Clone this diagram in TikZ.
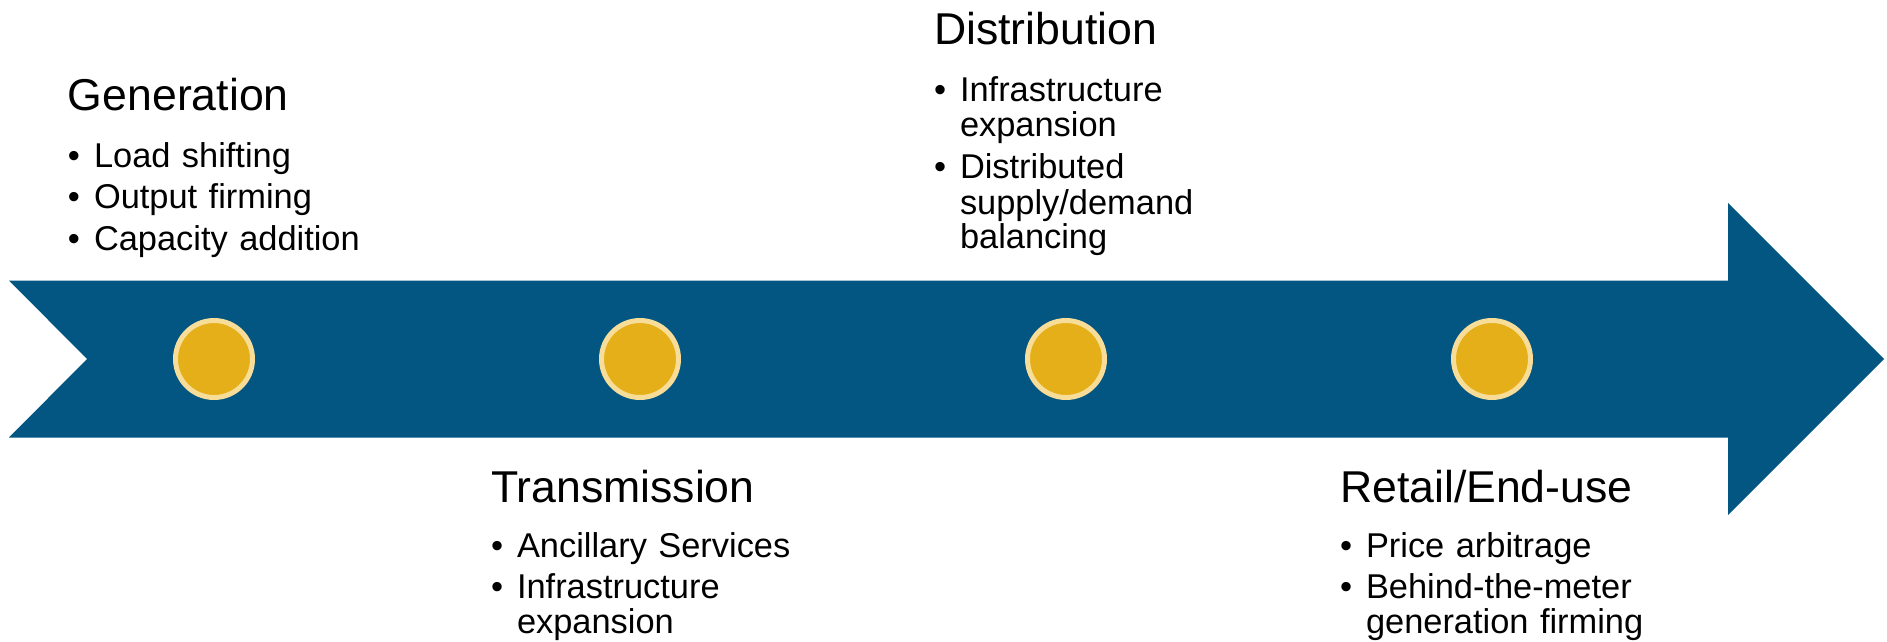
\documentclass[tikz,border=0pt]{standalone}
\usepackage{fontspec}
\setmainfont{Liberation Sans}
\definecolor{band}{RGB}{2,86,129}
\definecolor{dotfill}{RGB}{228,175,24}
\definecolor{dotring}{RGB}{248,221,152}
\begin{document}
\begin{tikzpicture}[x=0.5pt,y=-0.5pt]
  \tikzstyle{every node}=[inner sep=0pt,outer sep=0pt]
  \tikzstyle{head}=[anchor=base west,font=\fontsize{22.3}{24}\selectfont]
  \tikzstyle{bul}=[anchor=base west,font=\fontsize{17.2}{17.5}\selectfont]
  \tikzstyle{entry}=[anchor=base west,font=\fontsize{17.2}{17.5}\selectfont,text width=170pt,align=left]
  \useasboundingbox (0,0) rectangle (1887,642);
  % the arrow band
  \fill [band] (9,280.5) -- (1728,280.5) -- (1728,203) -- (1884,359) -- (1728,515)
    -- (1728,437.5) -- (9,437.5) -- (87,359) -- cycle;
  \foreach \x/\n in {214/c1,640/c2,1066/c3,1492/c4}
    \node (\n) [circle,fill=dotfill,draw=dotring,line width=2.5pt,minimum size=38.5pt] at (\x,359) {};
  % Generation
  \node (gen) [head] at (68,111) {Generation};
  \node (gen1b) [bul] at (68,168) {\textbullet};
  \node (gen1) [entry] at (94,168) {Load shifting};
  \node (gen2b) [bul] at (68,209) {\textbullet};
  \node (gen2) [entry] at (94,209) {Output firming};
  \node (gen3b) [bul] at (68,250) {\textbullet};
  \node (gen3) [entry] at (94,250) {Capacity addition};
  % Transmission
  \node (trans) [head] at (491,502) {Transmission};
  \node (trans1b) [bul] at (491,557) {\textbullet};
  \node (trans1) [entry] at (517,557) {Ancillary Services};
  \node (trans2b) [bul] at (491,598) {\textbullet};
  \node (trans2) [entry] at (517,598) {Infrastructure\\expansion};
  % Distribution
  \node (dist) [head] at (934,45) {Distribution};
  \node (dist1b) [bul] at (934,102) {\textbullet};
  \node (dist1) [entry] at (960,102) {Infrastructure\\expansion};
  \node (dist2b) [bul] at (934,179) {\textbullet};
  \node (dist2) [entry] at (960,179) {Distributed\\supply/demand\\balancing};
  % Retail/End-use
  \node (ret) [head] at (1340,502) {Retail/End-use};
  \node (ret1b) [bul] at (1340,557) {\textbullet};
  \node (ret1) [entry] at (1366,557) {Price arbitrage};
  \node (ret2b) [bul] at (1340,598) {\textbullet};
  \node (ret2) [entry] at (1366,598) {Behind-the-meter\\generation firming};
\end{tikzpicture}
\end{document}
